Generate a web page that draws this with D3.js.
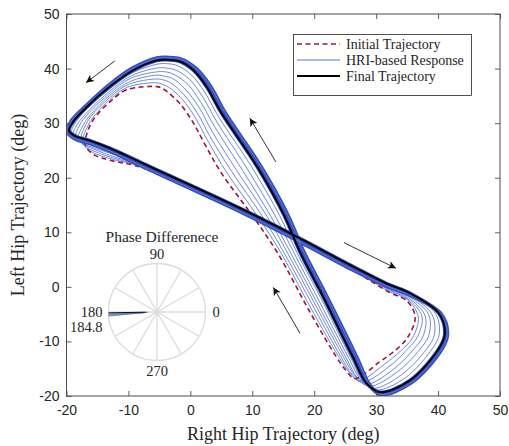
<!DOCTYPE html>
<html><head><meta charset="utf-8">
<script src="https://cdn.jsdelivr.net/npm/d3@7"></script>
<style>body{margin:0;background:#fff}svg{display:block}</style>
</head><body>
<svg id="chart" width="509" height="446"></svg>
<script>
// ---------------- data ----------------
const xTicks = [-20, -10, 0, 10, 20, 30, 40, 50];
const yTicks = [-20, -10, 0, 10, 20, 30, 40, 50];
const xLabel = "Right Hip Trajectory (deg)";
const yLabel = "Left Hip Trajectory (deg)";
const legendLabels = ["Initial Trajectory", "HRI-based Response", "Final Trajectory"];

const initialTrajectory = [[-5.4,36.7],[-10.3,36.1],[-13.0,33.9],[-15.7,30.6],[-16.7,28.1],[-17.0,26.4],[-16.5,25.1],[-15.4,24.1],[-13.0,23.2],[-7.6,21.8],[8.5,13.4],[16.3,9.0],[26.3,3.0],[32.3,-1.1],[35.0,-2.6],[36.3,-5.6],[35.0,-9.4],[32.8,-11.9],[30.6,-13.7],[26.6,-16.8],[25.2,-15.4],[23.5,-12.7],[19.3,-4.6],[14.2,6.0],[10.3,12.6],[5.1,20.7],[2.4,26.0],[0.5,30.0],[-1.7,33.6],[-3.8,35.8],[-4.6,36.4]];

const hri1 = [[-5.4,37.4],[-10.1,36.6],[-13.0,34.3],[-15.8,30.9],[-17.0,28.4],[-17.4,26.7],[-16.8,25.5],[-15.5,24.5],[-13.0,23.5],[-7.6,21.9],[8.5,13.5],[16.3,9.1],[26.3,3.1],[32.2,-0.9],[35.1,-2.4],[36.8,-5.5],[35.9,-9.3],[33.9,-11.8],[31.3,-14.2],[27.2,-17.2],[25.7,-15.7],[23.9,-12.7],[19.6,-4.2],[14.7,6.1],[11.0,12.7],[5.9,20.9],[2.8,26.8],[0.8,31.0],[-1.4,34.5],[-3.5,36.6],[-4.5,37.1]];
const hri2 = [[-5.4,38.1],[-10.0,37.1],[-13.0,34.7],[-16.0,31.3],[-17.3,28.7],[-17.7,27.0],[-17.1,25.8],[-15.6,24.9],[-13.0,23.8],[-7.6,22.0],[8.5,13.6],[16.3,9.2],[26.3,3.2],[32.1,-0.6],[35.1,-2.2],[37.4,-5.4],[36.7,-9.1],[34.9,-11.6],[32.0,-14.7],[27.7,-17.5],[26.1,-16.0],[24.3,-12.8],[19.9,-3.7],[15.2,6.1],[11.7,12.8],[6.7,21.1],[3.1,27.7],[1.1,31.9],[-1.1,35.3],[-3.2,37.4],[-4.3,37.9]];
const hri3 = [[-5.4,38.8],[-9.8,37.6],[-13.0,35.1],[-16.1,31.6],[-17.6,29.0],[-18.1,27.3],[-17.4,26.2],[-15.7,25.3],[-13.0,24.1],[-7.6,22.1],[8.5,13.7],[16.3,9.3],[26.3,3.3],[32.0,-0.4],[35.2,-2.0],[37.9,-5.3],[37.6,-9.0],[36.0,-11.5],[32.7,-15.2],[28.3,-17.9],[26.6,-16.3],[24.7,-12.8],[20.2,-3.3],[15.7,6.2],[12.4,12.9],[7.5,21.3],[3.5,28.5],[1.4,32.9],[-0.8,36.2],[-2.9,38.2],[-4.2,38.6]];
const hri4 = [[-5.4,39.4],[-9.7,38.2],[-13.0,35.5],[-16.3,32.0],[-18.0,29.4],[-18.5,27.7],[-17.6,26.5],[-15.9,25.6],[-13.0,24.5],[-7.6,22.2],[8.6,13.8],[16.3,9.4],[26.3,3.4],[32.0,-0.1],[35.3,-1.8],[38.5,-5.1],[38.5,-8.9],[37.1,-11.4],[33.4,-15.6],[28.9,-18.2],[27.0,-16.7],[25.1,-12.9],[20.4,-2.8],[16.2,6.2],[13.0,12.9],[8.4,21.4],[3.9,29.4],[1.7,33.8],[-0.4,37.1],[-2.6,38.9],[-4.0,39.4]];
const hri5 = [[-5.4,40.1],[-9.5,38.7],[-13.0,35.9],[-16.4,32.3],[-18.3,29.7],[-18.9,28.0],[-17.9,26.9],[-16.0,26.0],[-13.0,24.8],[-7.6,22.4],[8.6,13.9],[16.3,9.5],[26.3,3.5],[31.9,0.1],[35.4,-1.6],[39.0,-5.0],[39.4,-8.8],[38.2,-11.3],[34.1,-16.1],[29.5,-18.6],[27.5,-17.0],[25.5,-12.9],[20.7,-2.4],[16.7,6.3],[13.7,13.0],[9.2,21.6],[4.3,30.2],[2.0,34.8],[-0.1,38.0],[-2.3,39.7],[-3.9,40.1]];
const hri6 = [[-5.4,40.8],[-9.4,39.2],[-13.0,36.3],[-16.6,32.7],[-18.6,30.0],[-19.2,28.3],[-18.2,27.2],[-16.1,26.4],[-13.0,25.1],[-7.6,22.5],[8.6,14.0],[16.3,9.6],[26.3,3.6],[31.8,0.4],[35.4,-1.4],[39.6,-4.9],[40.2,-8.6],[39.2,-11.1],[34.8,-16.6],[30.0,-18.9],[27.9,-17.3],[25.9,-13.0],[21.0,-1.9],[17.2,6.3],[14.4,13.1],[10.0,21.8],[4.6,31.1],[2.3,35.7],[0.2,38.8],[-2.0,40.5],[-3.7,40.9]];
const hriResponses = [hri1, hri2, hri3, hri4, hri5, hri6];

const convergedResponse = [[-5.4,41.9],[-9.4,40.0],[-13.2,36.9],[-16.9,33.1],[-19.2,30.4],[-19.9,28.5],[-18.7,27.2],[-16.2,26.3],[-13.0,24.9],[-7.6,22.0],[8.6,13.5],[16.3,9.1],[26.3,3.1],[31.8,0.1],[35.7,-1.6],[40.4,-4.9],[41.5,-8.5],[40.7,-11.2],[35.7,-17.5],[30.7,-19.7],[28.9,-17.9],[26.9,-13.0],[21.9,-1.5],[18.3,6.4],[15.7,13.2],[11.4,22.0],[5.6,31.9],[3.2,36.8],[0.9,40.0],[-1.5,41.7],[-3.6,42.0]];

const finalTrajectory = [[-5.4,41.5],[-9.2,39.7],[-13.0,36.7],[-16.7,33.0],[-18.9,30.3],[-19.6,28.6],[-18.5,27.6],[-16.2,26.8],[-13.0,25.4],[-7.6,22.6],[8.6,14.1],[16.3,9.7],[26.3,3.7],[31.7,0.6],[35.5,-1.2],[40.1,-4.8],[41.1,-8.5],[40.3,-11.0],[35.5,-17.1],[30.6,-19.3],[28.4,-17.6],[26.3,-13.0],[21.3,-1.5],[17.7,6.4],[15.1,13.2],[10.8,22.0],[5.0,31.9],[2.6,36.7],[0.5,39.7],[-1.7,41.3],[-3.6,41.6]];

// direction arrows: [tail, head] in data units
const directionArrows = [
  [[-12.2, 41.4], [-16.85, 37.4]],
  [[13.8, 22.9], [9.6, 30.9]],
  [[24.8, 8.1], [33.2, 3.4]],
  [[17.7, -8.5], [13.4, -0.1]]
];

// phase difference inset (degrees)
const polarTickAngles = [0, 90, 180, 270];
const phaseResponses = [181.6, 182.6, 183.5, 184.2, 184.8];
const phaseFinal = 181.0;
const phaseLabel = "184.8";
const polarTitle = "Phase Differenece";

// ---------------- layout ----------------
const M = {left: 66.5, right: 500, top: 14, bottom: 396};
const svg = d3.select("#chart");
const x = d3.scaleLinear().domain([-20, 50]).range([M.left, M.right]);
const y = d3.scaleLinear().domain([-20, 50]).range([M.bottom, M.top]);

const serif = "'Liberation Serif', 'Times New Roman', serif";
const sans = "'Liberation Sans', Arial, Helvetica, sans-serif";
const axisColor = "#4d4d4d";
const textColor = "#262626";

const line = d3.line().x(d => x(d[0])).y(d => y(d[1])).curve(d3.curveCatmullRomClosed.alpha(0.5));

const defs = svg.append("defs");
defs.append("clipPath").attr("id", "clip")
  .append("rect").attr("x", M.left).attr("y", M.top)
  .attr("width", M.right - M.left).attr("height", M.bottom - M.top);
defs.append("marker")
  .attr("id", "ah").attr("viewBox", "0 0 10 10")
  .attr("refX", 10).attr("refY", 5)
  .attr("markerUnits", "userSpaceOnUse")
  .attr("markerWidth", 10).attr("markerHeight", 8)
  .attr("orient", "auto")
  .append("path").attr("d", "M0,0 L10,5 L0,10 L2.5,5 Z").attr("fill", "#111");

const plot = svg.append("g").attr("clip-path", "url(#clip)");

// thin HRI responses
plot.selectAll(".hri").data(hriResponses).join("path")
  .attr("class", "hri").attr("d", line)
  .attr("fill", "none").attr("stroke", "#5574da").attr("stroke-width", 0.85);

// initial dashed
plot.append("path").datum(initialTrajectory).attr("d", line)
  .attr("fill", "none").attr("stroke", "#a2142f").attr("stroke-width", 1.6)
  .attr("stroke-dasharray", "5,3.5");

// converged band
plot.append("path").datum(convergedResponse).attr("d", line)
  .attr("fill", "none").attr("stroke", "#3350c2").attr("stroke-width", 4);
plot.append("path").datum(finalTrajectory).attr("d", line)
  .attr("fill", "none").attr("stroke", "#3350c2").attr("stroke-width", 3.6);
plot.append("path").datum(convergedResponse).attr("d", line)
  .attr("fill", "none").attr("stroke", "#7890e2").attr("stroke-width", 0.6);

// final
plot.append("path").datum(finalTrajectory).attr("d", line)
  .attr("fill", "none").attr("stroke", "#000").attr("stroke-width", 1.9);

// arrows
svg.append("g").selectAll("line").data(directionArrows).join("line")
  .attr("x1", d => x(d[0][0])).attr("y1", d => y(d[0][1]))
  .attr("x2", d => x(d[1][0])).attr("y2", d => y(d[1][1]))
  .attr("stroke", "#333").attr("stroke-width", 1)
  .attr("marker-end", "url(#ah)");

// axes
function styleAxis(g) {
  g.select(".domain").remove();
  g.selectAll(".tick line").attr("stroke", axisColor).attr("stroke-width", 0.9);
  g.selectAll(".tick text").attr("fill", textColor).style("font-family", sans).style("font-size", "14px");
}
const fmt = d => String(d);
svg.append("g").attr("transform", `translate(0,${M.bottom})`)
  .call(d3.axisBottom(x).tickValues(xTicks).tickSize(-5).tickSizeOuter(0).tickPadding(9).tickFormat(fmt))
  .call(styleAxis);
svg.append("g").attr("transform", `translate(${M.left},0)`)
  .call(d3.axisLeft(y).tickValues(yTicks).tickSize(-5).tickSizeOuter(0).tickPadding(7).tickFormat(fmt))
  .call(styleAxis);
svg.append("g").attr("transform", `translate(0,${M.top})`)
  .call(d3.axisTop(x).tickValues(xTicks).tickSize(-5).tickSizeOuter(0).tickFormat(""))
  .call(styleAxis);
svg.append("g").attr("transform", `translate(${M.right},0)`)
  .call(d3.axisRight(y).tickValues(yTicks).tickSize(-5).tickSizeOuter(0).tickFormat(""))
  .call(styleAxis);

svg.append("rect").attr("x", M.left).attr("y", M.top)
  .attr("width", M.right - M.left).attr("height", M.bottom - M.top)
  .attr("fill", "none").attr("stroke", axisColor).attr("stroke-width", 1);

// axis labels
svg.append("text").attr("x", (M.left + M.right) / 2).attr("y", 440)
  .attr("text-anchor", "middle").attr("fill", textColor)
  .style("font-family", serif).style("font-size", "18px").text(xLabel);
svg.append("text").attr("transform", `translate(24,${(M.top + M.bottom) / 2}) rotate(-90)`)
  .attr("text-anchor", "middle").attr("fill", textColor)
  .style("font-family", serif).style("font-size", "18px").text(yLabel);

// legend
const lg = svg.append("g");
lg.append("rect").attr("x", 293.5).attr("y", 34.5).attr("width", 178).attr("height", 61)
  .attr("fill", "#fff").attr("stroke", "#262626").attr("stroke-width", 0.8);
const legendStyles = [
  {stroke: "#a2142f", w: 1.6, dash: "5,3.5"},
  {stroke: "#5574da", w: 1, dash: null},
  {stroke: "#000", w: 2, dash: null}
];
const legendY = [44, 60, 76];
legendLabels.forEach((lab, i) => {
  lg.append("line").attr("x1", 297).attr("x2", 340).attr("y1", legendY[i]).attr("y2", legendY[i])
    .attr("stroke", legendStyles[i].stroke).attr("stroke-width", legendStyles[i].w)
    .attr("stroke-dasharray", legendStyles[i].dash);
  lg.append("text").attr("x", 346).attr("y", legendY[i]).attr("dy", "0.33em")
    .attr("fill", textColor).style("font-family", serif).style("font-size", "14px").text(lab);
});

// polar inset
const pc = {x: 157, y: 312}, R = 48.5;
const r = d3.scaleLinear().domain([0, 1]).range([0, R]);
const pol = svg.append("g").attr("transform", `translate(${pc.x},${pc.y})`);
const rad = a => a * Math.PI / 180;
pol.append("circle").attr("r", R).attr("fill", "#fff").attr("stroke", "#dcdcdc").attr("stroke-width", 1.3);
pol.selectAll(".spoke").data(d3.range(0, 180, 30)).join("line")
  .attr("x1", a => r(1) * Math.cos(rad(a))).attr("y1", a => -r(1) * Math.sin(rad(a)))
  .attr("x2", a => -r(1) * Math.cos(rad(a))).attr("y2", a => r(1) * Math.sin(rad(a)))
  .attr("stroke", "#dcdcdc").attr("stroke-width", 1.3);
pol.selectAll(".ph").data(phaseResponses).join("line")
  .attr("x1", r(0.2) * Math.cos(rad(182))).attr("y1", -r(0.2) * Math.sin(rad(182)))
  .attr("x2", a => r(1) * Math.cos(rad(a))).attr("y2", a => -r(1) * Math.sin(rad(a)))
  .attr("stroke", "#5a6fb8").attr("stroke-width", 0.7);
pol.append("line").attr("x1", r(0.25) * Math.cos(rad(phaseFinal))).attr("y1", -r(0.25) * Math.sin(rad(phaseFinal)))
  .attr("x2", r(1) * Math.cos(rad(phaseFinal))).attr("y2", -r(1) * Math.sin(rad(phaseFinal)))
  .attr("stroke", "#111").attr("stroke-width", 1);
const labOff = {0: [R + 7, 0, "start"], 90: [0, -(R + 10), "middle"], 180: [-(R + 6), 0, "end"], 270: [0, R + 10, "middle"]};
polarTickAngles.forEach(a => {
  pol.append("text").attr("x", labOff[a][0]).attr("y", labOff[a][1]).attr("dy", "0.35em")
    .attr("text-anchor", labOff[a][2]).attr("fill", textColor)
    .style("font-family", serif).style("font-size", "14.5px").text(a);
});
pol.append("text").attr("x", -(R + 6)).attr("y", 15).attr("dy", "0.35em")
  .attr("text-anchor", "end").attr("fill", textColor)
  .style("font-family", serif).style("font-size", "14.5px").text(phaseLabel);
pol.append("text").attr("x", 5).attr("y", -75).attr("dy", "0.35em")
  .attr("text-anchor", "middle").attr("fill", textColor)
  .style("font-family", serif).style("font-size", "15.5px").text(polarTitle);
</script>
</body></html>
